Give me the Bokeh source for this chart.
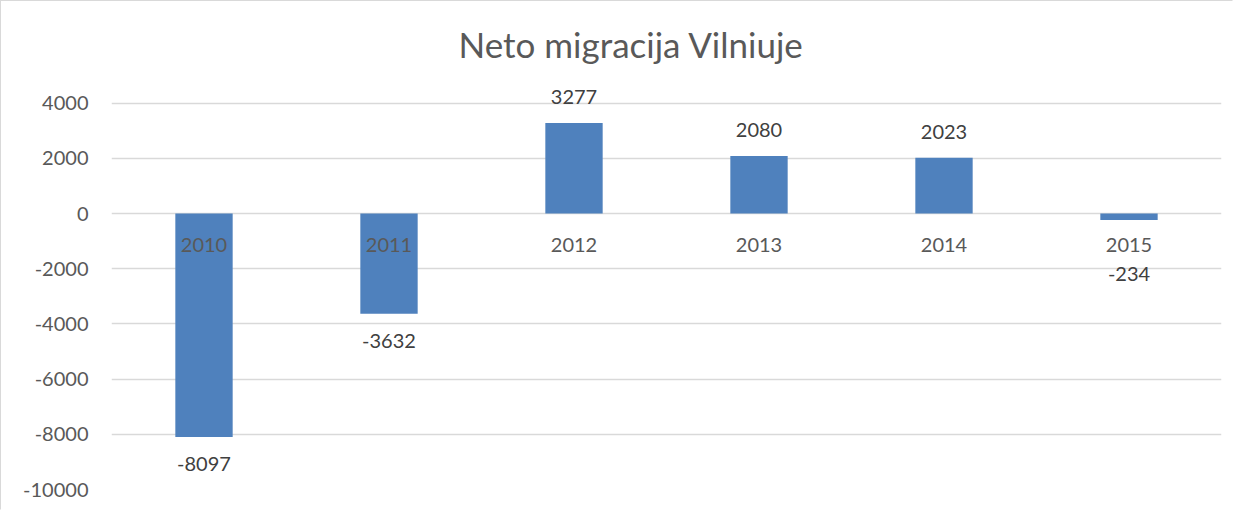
from bokeh.plotting import figure
from bokeh.models import ColumnDataSource, FactorRange, Range1d, FixedTicker, LabelSet, PrintfTickFormatter
from bokeh.core.properties import value
from bokeh.embed import file_html
from bokeh.resources import INLINE
import numpy as np

years = ["2010", "2011", "2012", "2013", "2014", "2015"]
values = [-8097, -3632, 3277, 2080, 2023, -234]
y_ticks = [-10000, -8000, -6000, -4000, -2000, 0, 2000, 4000]
title_text = "Neto migracija Vilniuje"

vals = np.array(values, dtype=float)
anchor = np.where(vals >= 0, vals, np.minimum(vals, -1200))
offs = np.where(vals >= 0, 26, -27)

src = ColumnDataSource(dict(x=years, top=vals, anchor=anchor, off=offs,
                            lbl=[str(v) for v in values], zero=[0] * len(years)))

p = figure(width=1233, height=510, x_range=FactorRange(*years), y_range=Range1d(-10000, 5000),
           output_backend="svg", toolbar_location=None,
           min_border_left=110, min_border_right=13, min_border_top=74, min_border_bottom=22)
p.styles = {"border-style": "solid", "border-width": "1px",
            "border-color": "#D9D9D9 white white #D9D9D9"}
p.outline_line_color = None
p.background_fill_color = "white"
p.border_fill_color = "white"

p.title.text = title_text
p.title.align = "left"
p.title.text_font = "Lato"
p.title.text_font_size = "35px"
p.title.text_font_style = "normal"
p.title.text_color = "#595959"
p.title.standoff = 22
p.title.offset = 347

p.vbar(x="x", top="top", bottom=0, width=0.31, source=src, fill_color="#4F81BD", line_color=None)

p.xaxis.visible = False
p.xgrid.grid_line_color = None
p.ygrid.grid_line_color = "#D9D9D9"
p.ygrid.grid_line_width = 1.5
p.yaxis.ticker = FixedTicker(ticks=y_ticks)
p.yaxis.formatter = PrintfTickFormatter(format="%d")
p.yaxis.axis_line_color = None
p.yaxis.major_tick_line_color = None
p.yaxis.minor_tick_line_color = None
p.yaxis.major_tick_out = 0
p.yaxis.major_tick_in = 0
p.yaxis.major_label_standoff = 23
p.yaxis.major_label_text_font = "Lato"
p.yaxis.major_label_text_font_size = "20px"
p.yaxis.major_label_text_color = "#595959"

cat_labels = LabelSet(x="x", y="zero", text="x", y_offset=-31, source=src,
                      text_align="center", text_baseline="middle",
                      text_font=value("Lato"), text_font_size=value("20px"), text_color="#595959")
val_labels = LabelSet(x="x", y="anchor", text="lbl", y_offset="off", source=src,
                      text_align="center", text_baseline="middle",
                      text_font=value("Lato"), text_font_size=value("20px"), text_color="#404040")
p.add_layout(cat_labels)
p.add_layout(val_labels)

open("out.html", "w").write(file_html(p, INLINE))
